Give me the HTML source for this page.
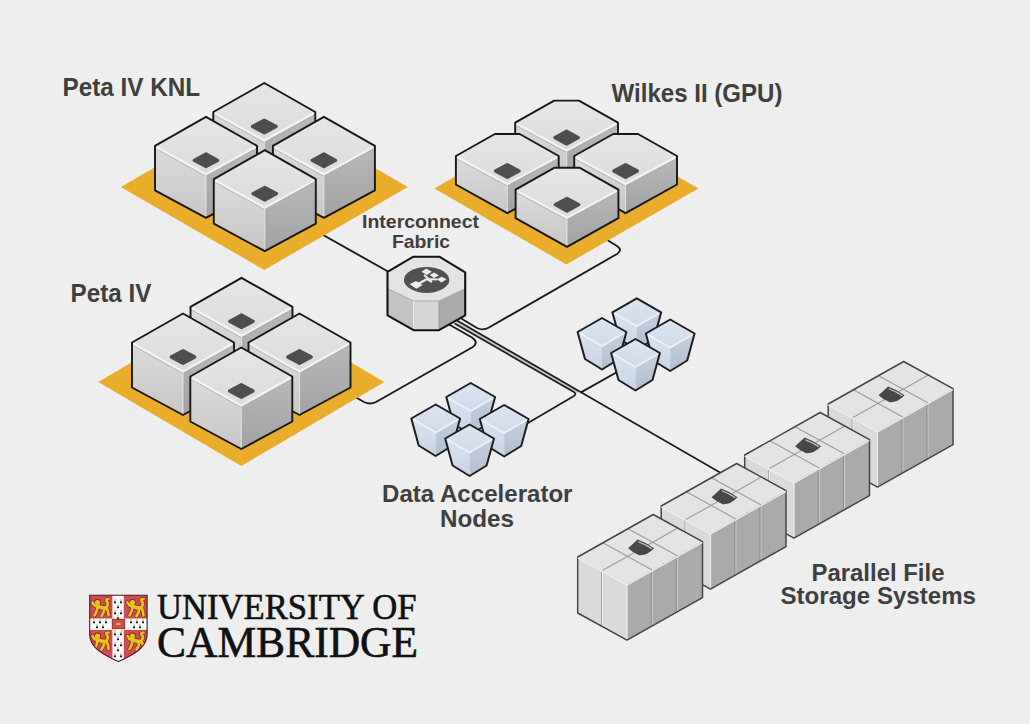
<!DOCTYPE html>
<html><head><meta charset="utf-8"><title>HPC</title>
<style>html,body{margin:0;padding:0;background:#eeeeee;width:1030px;height:724px;overflow:hidden} svg{display:block}</style>
</head><body>
<svg width="1030" height="724" viewBox="0 0 1030 724">
<defs>
 <linearGradient id="gTop" x1="0" y1="0" x2="0" y2="1">
  <stop offset="0" stop-color="#e6e6e6"/><stop offset="1" stop-color="#dcdcdc"/>
 </linearGradient>
 <linearGradient id="gL" x1="0" y1="0" x2="0" y2="1">
  <stop offset="0" stop-color="#dcdcdc"/><stop offset="1" stop-color="#c6c6c6"/>
 </linearGradient>
 <linearGradient id="gR" x1="0" y1="0" x2="0" y2="1">
  <stop offset="0" stop-color="#b9b9b9"/><stop offset="1" stop-color="#a2a2a2"/>
 </linearGradient>
 <linearGradient id="aTop" x1="0" y1="0" x2="0" y2="1">
  <stop offset="0" stop-color="#dce5f1"/><stop offset="1" stop-color="#d0dbea"/>
 </linearGradient>
 <linearGradient id="aL" x1="0" y1="0" x2="0" y2="1">
  <stop offset="0" stop-color="#dbe3ef"/><stop offset="1" stop-color="#c9d4e4"/>
 </linearGradient>
 <linearGradient id="aR" x1="0" y1="0" x2="0" y2="1">
  <stop offset="0" stop-color="#c4cfdf"/><stop offset="1" stop-color="#b3bfd1"/>
 </linearGradient>
</defs>

<rect width="1030" height="724" fill="#eeeeee"/>
<path d="M300,222 L388,271.5" fill="none" stroke="#1c1c1c" stroke-width="1.9" stroke-linejoin="round" stroke-linecap="round"/>
<path d="M604,238 L617,246 Q623,250 617,254 L489,327.5 Q483,331 477,328 L462,319" fill="none" stroke="#1c1c1c" stroke-width="1.9" stroke-linejoin="round" stroke-linecap="round"/>
<path d="M350,394 L364,402 Q370,405 376,402 L472,347.5 Q479.5,342.5 472,337.5 L450,325" fill="none" stroke="#1c1c1c" stroke-width="1.9" stroke-linejoin="round" stroke-linecap="round"/>
<path d="M456,322.1 L578,392.2" fill="none" stroke="#c4c4c4" stroke-width="2.4"/>
<path d="M457,320.5 L581,392.3 L720,472.5" fill="none" stroke="#1c1c1c" stroke-width="1.7" stroke-linejoin="round" stroke-linecap="round"/>
<path d="M455.1,323.8 L573.5,391.8 Q577.3,394 573.5,396.3 L528,423" fill="none" stroke="#1c1c1c" stroke-width="1.7" stroke-linejoin="round" stroke-linecap="round"/>
<path d="M581,392.3 L618,371.5" fill="none" stroke="#1c1c1c" stroke-width="1.9" stroke-linejoin="round" stroke-linecap="round"/>
<polygon points="264.3,104.0 407.8,187.0 264.3,270.0 120.8,187.0" fill="#e9ac2b"/>
<polygon points="213.3,112.0 264.3,139.5 264.3,184.0 213.3,156.5" fill="url(#gL)"/>
<polygon points="264.3,139.5 315.3,112.0 315.3,156.5 264.3,184.0" fill="url(#gR)"/>
<polygon points="264.3,83.0 315.3,112.0 264.3,139.5 213.3,112.0" fill="url(#gTop)"/>
<polyline points="214.8,115.2 264.3,142.5 313.8,115.2" fill="none" stroke="#a9a9a9" stroke-width="0.9" opacity="0.8"/>
<polyline points="214.8,113.2 264.3,140.5 313.8,113.2" fill="none" stroke="#f3f3f3" stroke-width="2.2"/>
<line x1="264.3" y1="141.5" x2="264.3" y2="183.0" stroke="#eeeeee" stroke-width="1" opacity="0.8"/>
<polygon points="264.3,120.1 276.1,126.5 264.3,132.9 252.5,126.5" fill="#4e4e4e" stroke="#4e4e4e" stroke-width="3.2" stroke-linejoin="round"/>
<polygon points="264.3,83.0 315.3,112.0 315.3,156.5 264.3,184.0 213.3,156.5 213.3,112.0" fill="none" stroke="#181818" stroke-width="1.9" stroke-linejoin="round"/>
<polygon points="155.0,145.8 206.0,173.3 206.0,217.8 155.0,190.3" fill="url(#gL)"/>
<polygon points="206.0,173.3 257.0,145.8 257.0,190.3 206.0,217.8" fill="url(#gR)"/>
<polygon points="206.0,116.8 257.0,145.8 206.0,173.3 155.0,145.8" fill="url(#gTop)"/>
<polyline points="156.5,149.0 206.0,176.3 255.5,149.0" fill="none" stroke="#a9a9a9" stroke-width="0.9" opacity="0.8"/>
<polyline points="156.5,147.0 206.0,174.3 255.5,147.0" fill="none" stroke="#f3f3f3" stroke-width="2.2"/>
<line x1="206.0" y1="175.3" x2="206.0" y2="216.8" stroke="#eeeeee" stroke-width="1" opacity="0.8"/>
<polygon points="206.0,153.9 217.8,160.3 206.0,166.7 194.2,160.3" fill="#4e4e4e" stroke="#4e4e4e" stroke-width="3.2" stroke-linejoin="round"/>
<polygon points="206.0,116.8 257.0,145.8 257.0,190.3 206.0,217.8 155.0,190.3 155.0,145.8" fill="none" stroke="#181818" stroke-width="1.9" stroke-linejoin="round"/>
<polygon points="272.9,145.8 323.9,173.3 323.9,217.8 272.9,190.3" fill="url(#gL)"/>
<polygon points="323.9,173.3 374.9,145.8 374.9,190.3 323.9,217.8" fill="url(#gR)"/>
<polygon points="323.9,116.8 374.9,145.8 323.9,173.3 272.9,145.8" fill="url(#gTop)"/>
<polyline points="274.4,149.0 323.9,176.3 373.4,149.0" fill="none" stroke="#a9a9a9" stroke-width="0.9" opacity="0.8"/>
<polyline points="274.4,147.0 323.9,174.3 373.4,147.0" fill="none" stroke="#f3f3f3" stroke-width="2.2"/>
<line x1="323.9" y1="175.3" x2="323.9" y2="216.8" stroke="#eeeeee" stroke-width="1" opacity="0.8"/>
<polygon points="323.9,153.9 335.7,160.3 323.9,166.7 312.1,160.3" fill="#4e4e4e" stroke="#4e4e4e" stroke-width="3.2" stroke-linejoin="round"/>
<polygon points="323.9,116.8 374.9,145.8 374.9,190.3 323.9,217.8 272.9,190.3 272.9,145.8" fill="none" stroke="#181818" stroke-width="1.9" stroke-linejoin="round"/>
<polygon points="213.8,179.2 264.8,206.7 264.8,251.2 213.8,223.7" fill="url(#gL)"/>
<polygon points="264.8,206.7 315.8,179.2 315.8,223.7 264.8,251.2" fill="url(#gR)"/>
<polygon points="264.8,150.2 315.8,179.2 264.8,206.7 213.8,179.2" fill="url(#gTop)"/>
<polyline points="215.3,182.4 264.8,209.7 314.3,182.4" fill="none" stroke="#a9a9a9" stroke-width="0.9" opacity="0.8"/>
<polyline points="215.3,180.4 264.8,207.7 314.3,180.4" fill="none" stroke="#f3f3f3" stroke-width="2.2"/>
<line x1="264.8" y1="208.7" x2="264.8" y2="250.2" stroke="#eeeeee" stroke-width="1" opacity="0.8"/>
<polygon points="264.8,187.3 276.6,193.7 264.8,200.1 253.0,193.7" fill="#4e4e4e" stroke="#4e4e4e" stroke-width="3.2" stroke-linejoin="round"/>
<polygon points="264.8,150.2 315.8,179.2 315.8,223.7 264.8,251.2 213.8,223.7 213.8,179.2" fill="none" stroke="#181818" stroke-width="1.9" stroke-linejoin="round"/>
<polygon points="241.3,298.0 384.3,382.0 241.3,466.0 98.3,382.0" fill="#e9ac2b"/>
<polygon points="190.5,306.8 241.5,334.8 241.5,379.3 190.5,351.8" fill="url(#gL)"/>
<polygon points="241.5,334.8 292.5,306.8 292.5,351.8 241.5,379.3" fill="url(#gR)"/>
<polygon points="241.5,277.8 292.5,306.8 241.5,334.8 190.5,306.8" fill="url(#gTop)"/>
<polyline points="192.0,310.0 241.5,337.8 291.0,310.0" fill="none" stroke="#a9a9a9" stroke-width="0.9" opacity="0.8"/>
<polyline points="192.0,308.0 241.5,335.8 291.0,308.0" fill="none" stroke="#f3f3f3" stroke-width="2.2"/>
<line x1="241.5" y1="336.8" x2="241.5" y2="378.3" stroke="#eeeeee" stroke-width="1" opacity="0.8"/>
<polygon points="241.5,314.9 253.3,321.3 241.5,327.7 229.7,321.3" fill="#4e4e4e" stroke="#4e4e4e" stroke-width="3.2" stroke-linejoin="round"/>
<polygon points="241.5,277.8 292.5,306.8 292.5,351.8 241.5,379.3 190.5,351.8 190.5,306.8" fill="none" stroke="#181818" stroke-width="1.9" stroke-linejoin="round"/>
<polygon points="132.0,342.5 183.0,370.5 183.0,415.0 132.0,387.5" fill="url(#gL)"/>
<polygon points="183.0,370.5 234.0,342.5 234.0,387.5 183.0,415.0" fill="url(#gR)"/>
<polygon points="183.0,313.5 234.0,342.5 183.0,370.5 132.0,342.5" fill="url(#gTop)"/>
<polyline points="133.5,345.7 183.0,373.5 232.5,345.7" fill="none" stroke="#a9a9a9" stroke-width="0.9" opacity="0.8"/>
<polyline points="133.5,343.7 183.0,371.5 232.5,343.7" fill="none" stroke="#f3f3f3" stroke-width="2.2"/>
<line x1="183.0" y1="372.5" x2="183.0" y2="414.0" stroke="#eeeeee" stroke-width="1" opacity="0.8"/>
<polygon points="183.0,350.6 194.8,357.0 183.0,363.4 171.2,357.0" fill="#4e4e4e" stroke="#4e4e4e" stroke-width="3.2" stroke-linejoin="round"/>
<polygon points="183.0,313.5 234.0,342.5 234.0,387.5 183.0,415.0 132.0,387.5 132.0,342.5" fill="none" stroke="#181818" stroke-width="1.9" stroke-linejoin="round"/>
<polygon points="248.5,342.5 299.5,370.5 299.5,415.0 248.5,387.5" fill="url(#gL)"/>
<polygon points="299.5,370.5 350.5,342.5 350.5,387.5 299.5,415.0" fill="url(#gR)"/>
<polygon points="299.5,313.5 350.5,342.5 299.5,370.5 248.5,342.5" fill="url(#gTop)"/>
<polyline points="250.0,345.7 299.5,373.5 349.0,345.7" fill="none" stroke="#a9a9a9" stroke-width="0.9" opacity="0.8"/>
<polyline points="250.0,343.7 299.5,371.5 349.0,343.7" fill="none" stroke="#f3f3f3" stroke-width="2.2"/>
<line x1="299.5" y1="372.5" x2="299.5" y2="414.0" stroke="#eeeeee" stroke-width="1" opacity="0.8"/>
<polygon points="299.5,350.6 311.3,357.0 299.5,363.4 287.7,357.0" fill="#4e4e4e" stroke="#4e4e4e" stroke-width="3.2" stroke-linejoin="round"/>
<polygon points="299.5,313.5 350.5,342.5 350.5,387.5 299.5,415.0 248.5,387.5 248.5,342.5" fill="none" stroke="#181818" stroke-width="1.9" stroke-linejoin="round"/>
<polygon points="190.3,376.5 241.3,404.5 241.3,449.0 190.3,421.5" fill="url(#gL)"/>
<polygon points="241.3,404.5 292.3,376.5 292.3,421.5 241.3,449.0" fill="url(#gR)"/>
<polygon points="241.3,347.5 292.3,376.5 241.3,404.5 190.3,376.5" fill="url(#gTop)"/>
<polyline points="191.8,379.7 241.3,407.5 290.8,379.7" fill="none" stroke="#a9a9a9" stroke-width="0.9" opacity="0.8"/>
<polyline points="191.8,377.7 241.3,405.5 290.8,377.7" fill="none" stroke="#f3f3f3" stroke-width="2.2"/>
<line x1="241.3" y1="406.5" x2="241.3" y2="448.0" stroke="#eeeeee" stroke-width="1" opacity="0.8"/>
<polygon points="241.3,384.6 253.1,391.0 241.3,397.4 229.5,391.0" fill="#4e4e4e" stroke="#4e4e4e" stroke-width="3.2" stroke-linejoin="round"/>
<polygon points="241.3,347.5 292.3,376.5 292.3,421.5 241.3,449.0 190.3,421.5 190.3,376.5" fill="none" stroke="#181818" stroke-width="1.9" stroke-linejoin="round"/>
<polygon points="566.4,112.4 698.4,188.4 566.4,264.4 434.4,188.4" fill="#e9ac2b"/>
<polygon points="515.2,122.6 566.6,149.6 566.6,179.8 515.2,151.1" fill="url(#gL)"/>
<polygon points="566.6,149.6 618.0,122.6 618.0,151.1 566.6,179.8" fill="url(#gR)"/>
<polygon points="554.2,100.6 579.0,100.6 618.0,122.6 566.6,149.6 515.2,122.6" fill="url(#gTop)"/>
<polyline points="516.7,125.8 566.6,152.6 616.5,125.8" fill="none" stroke="#a9a9a9" stroke-width="0.9" opacity="0.8"/>
<polyline points="516.7,123.8 566.6,150.6 616.5,123.8" fill="none" stroke="#f3f3f3" stroke-width="2.2"/>
<line x1="566.6" y1="151.6" x2="566.6" y2="178.8" stroke="#eeeeee" stroke-width="1" opacity="0.8"/>
<polygon points="566.6,131.2 578.4,137.6 566.6,144.0 554.8,137.6" fill="#4e4e4e" stroke="#4e4e4e" stroke-width="3.2" stroke-linejoin="round"/>
<polygon points="554.2,100.6 579.0,100.6 618.0,122.6 618.0,151.1 566.6,179.8 515.2,151.1 515.2,122.6" fill="none" stroke="#181818" stroke-width="1.9" stroke-linejoin="round"/>
<polygon points="455.9,156.0 507.3,183.0 507.3,213.2 455.9,184.5" fill="url(#gL)"/>
<polygon points="507.3,183.0 558.7,156.0 558.7,184.5 507.3,213.2" fill="url(#gR)"/>
<polygon points="494.9,134.0 519.7,134.0 558.7,156.0 507.3,183.0 455.9,156.0" fill="url(#gTop)"/>
<polyline points="457.4,159.2 507.3,186.0 557.2,159.2" fill="none" stroke="#a9a9a9" stroke-width="0.9" opacity="0.8"/>
<polyline points="457.4,157.2 507.3,184.0 557.2,157.2" fill="none" stroke="#f3f3f3" stroke-width="2.2"/>
<line x1="507.3" y1="185.0" x2="507.3" y2="212.2" stroke="#eeeeee" stroke-width="1" opacity="0.8"/>
<polygon points="507.3,164.6 519.1,171.0 507.3,177.4 495.5,171.0" fill="#4e4e4e" stroke="#4e4e4e" stroke-width="3.2" stroke-linejoin="round"/>
<polygon points="494.9,134.0 519.7,134.0 558.7,156.0 558.7,184.5 507.3,213.2 455.9,184.5 455.9,156.0" fill="none" stroke="#181818" stroke-width="1.9" stroke-linejoin="round"/>
<polygon points="574.2,156.0 625.6,183.0 625.6,213.2 574.2,184.5" fill="url(#gL)"/>
<polygon points="625.6,183.0 677.0,156.0 677.0,184.5 625.6,213.2" fill="url(#gR)"/>
<polygon points="613.2,134.0 638.0,134.0 677.0,156.0 625.6,183.0 574.2,156.0" fill="url(#gTop)"/>
<polyline points="575.7,159.2 625.6,186.0 675.5,159.2" fill="none" stroke="#a9a9a9" stroke-width="0.9" opacity="0.8"/>
<polyline points="575.7,157.2 625.6,184.0 675.5,157.2" fill="none" stroke="#f3f3f3" stroke-width="2.2"/>
<line x1="625.6" y1="185.0" x2="625.6" y2="212.2" stroke="#eeeeee" stroke-width="1" opacity="0.8"/>
<polygon points="625.6,164.6 637.4,171.0 625.6,177.4 613.8,171.0" fill="#4e4e4e" stroke="#4e4e4e" stroke-width="3.2" stroke-linejoin="round"/>
<polygon points="613.2,134.0 638.0,134.0 677.0,156.0 677.0,184.5 625.6,213.2 574.2,184.5 574.2,156.0" fill="none" stroke="#181818" stroke-width="1.9" stroke-linejoin="round"/>
<polygon points="515.6,189.7 567.0,216.7 567.0,246.9 515.6,218.2" fill="url(#gL)"/>
<polygon points="567.0,216.7 618.4,189.7 618.4,218.2 567.0,246.9" fill="url(#gR)"/>
<polygon points="554.6,167.7 579.4,167.7 618.4,189.7 567.0,216.7 515.6,189.7" fill="url(#gTop)"/>
<polyline points="517.1,192.9 567.0,219.7 616.9,192.9" fill="none" stroke="#a9a9a9" stroke-width="0.9" opacity="0.8"/>
<polyline points="517.1,190.9 567.0,217.7 616.9,190.9" fill="none" stroke="#f3f3f3" stroke-width="2.2"/>
<line x1="567.0" y1="218.7" x2="567.0" y2="245.9" stroke="#eeeeee" stroke-width="1" opacity="0.8"/>
<polygon points="567.0,198.3 578.8,204.7 567.0,211.1 555.2,204.7" fill="#4e4e4e" stroke="#4e4e4e" stroke-width="3.2" stroke-linejoin="round"/>
<polygon points="554.6,167.7 579.4,167.7 618.4,189.7 618.4,218.2 567.0,246.9 515.6,218.2 515.6,189.7" fill="none" stroke="#181818" stroke-width="1.9" stroke-linejoin="round"/>
<polygon points="387.5,288.6 413.6,301.0 413.6,330.2 387.5,315.3" fill="#c3c3c3"/>
<polygon points="413.6,301.0 439.0,301.0 439.0,330.2 413.6,330.2" fill="#d6d6d6"/>
<polygon points="439.0,301.0 465.2,288.6 465.2,315.3 439.0,330.2" fill="#ababab"/>
<polygon points="413.0,256.8 439.7,256.8 465.2,272.4 465.2,288.6 439.0,301.0 413.6,301.0 387.5,288.6 387.5,271.8" fill="#e3e3e3"/>
<polyline points="387.5,288.6 413.6,301.0 439.0,301.0 465.2,288.6" fill="none" stroke="#a8a8a8" stroke-width="1"/>
<line x1="413.6" y1="301" x2="413.6" y2="330" stroke="#eeeeee" stroke-width="1"/>
<line x1="439" y1="301" x2="439" y2="330" stroke="#a0a0a0" stroke-width="1"/>
<ellipse cx="426.6" cy="279.9" rx="22.7" ry="13" fill="#505050"/>
<polygon points="409.6,284.2 416.0,281.0 422.6,285.0 416.4,288.8" fill="#ececec"/>
<polygon points="421.5,271.8 426.2,268.4 431.8,271.8 426.8,275.0" fill="#ececec"/>
<polygon points="429.6,275.0 434.2,272.6 438.8,275.4 433.8,278.0" fill="#ececec"/>
<polygon points="436.6,279.3 441.6,276.8 446.6,279.3 441.6,282.4" fill="#ececec"/>
<path d="M418,284 L427,279 M424,275 L429,279 L437,279.5 M427,279 L432,282" stroke="#ececec" stroke-width="2.2" fill="none"/>
<polygon points="413.0,256.8 439.7,256.8 465.2,272.4 465.2,315.3 439.0,330.2 413.6,330.2 387.5,315.3 387.5,271.8" fill="none" stroke="#141414" stroke-width="2.1" stroke-linejoin="round"/>
<polygon points="446.3,397.0 470.7,411.0 470.7,434.5 453.7,424.0" fill="url(#aL)"/>
<polygon points="470.7,411.0 495.1,397.0 487.7,424.0 470.7,434.5" fill="url(#aR)"/>
<polygon points="470.7,383.0 495.1,397.0 470.7,411.0 446.3,397.0" fill="url(#aTop)"/>
<polyline points="448.3,398.0 470.7,411.0 493.1,398.0" fill="none" stroke="#eef2f8" stroke-width="1.6"/>
<polygon points="470.7,383.0 495.1,397.0 487.7,424.0 470.7,434.5 453.7,424.0 446.3,397.0" fill="none" stroke="#1e1e22" stroke-width="2.0" stroke-linejoin="round"/>
<polygon points="411.3,418.5 435.7,432.5 435.7,456.0 418.7,445.5" fill="url(#aL)"/>
<polygon points="435.7,432.5 460.1,418.5 452.7,445.5 435.7,456.0" fill="url(#aR)"/>
<polygon points="435.7,404.5 460.1,418.5 435.7,432.5 411.3,418.5" fill="url(#aTop)"/>
<polyline points="413.3,419.5 435.7,432.5 458.1,419.5" fill="none" stroke="#eef2f8" stroke-width="1.6"/>
<polygon points="435.7,404.5 460.1,418.5 452.7,445.5 435.7,456.0 418.7,445.5 411.3,418.5" fill="none" stroke="#1e1e22" stroke-width="2.0" stroke-linejoin="round"/>
<polygon points="479.8,419.0 504.2,433.0 504.2,456.5 487.2,446.0" fill="url(#aL)"/>
<polygon points="504.2,433.0 528.6,419.0 521.2,446.0 504.2,456.5" fill="url(#aR)"/>
<polygon points="504.2,405.0 528.6,419.0 504.2,433.0 479.8,419.0" fill="url(#aTop)"/>
<polyline points="481.8,420.0 504.2,433.0 526.6,420.0" fill="none" stroke="#eef2f8" stroke-width="1.6"/>
<polygon points="504.2,405.0 528.6,419.0 521.2,446.0 504.2,456.5 487.2,446.0 479.8,419.0" fill="none" stroke="#1e1e22" stroke-width="2.0" stroke-linejoin="round"/>
<polygon points="445.2,438.5 469.6,452.5 469.6,476.0 452.6,465.5" fill="url(#aL)"/>
<polygon points="469.6,452.5 494.0,438.5 486.6,465.5 469.6,476.0" fill="url(#aR)"/>
<polygon points="469.6,424.5 494.0,438.5 469.6,452.5 445.2,438.5" fill="url(#aTop)"/>
<polyline points="447.2,439.5 469.6,452.5 492.0,439.5" fill="none" stroke="#eef2f8" stroke-width="1.6"/>
<polygon points="469.6,424.5 494.0,438.5 486.6,465.5 469.6,476.0 452.6,465.5 445.2,438.5" fill="none" stroke="#1e1e22" stroke-width="2.0" stroke-linejoin="round"/>
<polygon points="612.4,312.3 636.8,326.3 636.8,349.8 619.8,339.3" fill="url(#aL)"/>
<polygon points="636.8,326.3 661.2,312.3 653.8,339.3 636.8,349.8" fill="url(#aR)"/>
<polygon points="636.8,298.3 661.2,312.3 636.8,326.3 612.4,312.3" fill="url(#aTop)"/>
<polyline points="614.4,313.3 636.8,326.3 659.2,313.3" fill="none" stroke="#eef2f8" stroke-width="1.6"/>
<polygon points="636.8,298.3 661.2,312.3 653.8,339.3 636.8,349.8 619.8,339.3 612.4,312.3" fill="none" stroke="#1e1e22" stroke-width="2.0" stroke-linejoin="round"/>
<polygon points="577.6,332.0 602.0,346.0 602.0,369.5 585.0,359.0" fill="url(#aL)"/>
<polygon points="602.0,346.0 626.4,332.0 619.0,359.0 602.0,369.5" fill="url(#aR)"/>
<polygon points="602.0,318.0 626.4,332.0 602.0,346.0 577.6,332.0" fill="url(#aTop)"/>
<polyline points="579.6,333.0 602.0,346.0 624.4,333.0" fill="none" stroke="#eef2f8" stroke-width="1.6"/>
<polygon points="602.0,318.0 626.4,332.0 619.0,359.0 602.0,369.5 585.0,359.0 577.6,332.0" fill="none" stroke="#1e1e22" stroke-width="2.0" stroke-linejoin="round"/>
<polygon points="645.8,333.5 670.2,347.5 670.2,371.0 653.2,360.5" fill="url(#aL)"/>
<polygon points="670.2,347.5 694.6,333.5 687.2,360.5 670.2,371.0" fill="url(#aR)"/>
<polygon points="670.2,319.5 694.6,333.5 670.2,347.5 645.8,333.5" fill="url(#aTop)"/>
<polyline points="647.8,334.5 670.2,347.5 692.6,334.5" fill="none" stroke="#eef2f8" stroke-width="1.6"/>
<polygon points="670.2,319.5 694.6,333.5 687.2,360.5 670.2,371.0 653.2,360.5 645.8,333.5" fill="none" stroke="#1e1e22" stroke-width="2.0" stroke-linejoin="round"/>
<polygon points="611.1,353.0 635.5,367.0 635.5,390.5 618.5,380.0" fill="url(#aL)"/>
<polygon points="635.5,367.0 659.9,353.0 652.5,380.0 635.5,390.5" fill="url(#aR)"/>
<polygon points="635.5,339.0 659.9,353.0 635.5,367.0 611.1,353.0" fill="url(#aTop)"/>
<polyline points="613.1,354.0 635.5,367.0 657.9,354.0" fill="none" stroke="#eef2f8" stroke-width="1.6"/>
<polygon points="635.5,339.0 659.9,353.0 652.5,380.0 635.5,390.5 618.5,380.0 611.1,353.0" fill="none" stroke="#1e1e22" stroke-width="2.0" stroke-linejoin="round"/>
<polygon points="828.2,404.0 877.5,431.1 877.5,487.1 828.2,460.0" fill="#dadada"/>
<polygon points="877.5,431.1 953.0,388.6 953.0,444.6 877.5,487.1" fill="#aaaaaa"/>
<polygon points="877.5,431.1 828.2,404.0 903.7,361.5 953.0,388.6" fill="#e4e4e4"/>
<line x1="852.9" y1="418.6" x2="852.9" y2="473.6" stroke="#f0f0f0" stroke-width="1.0"/>
<line x1="852.0" y1="418.6" x2="852.0" y2="473.6" stroke="#a0a0a0" stroke-width="0.9"/>
<line x1="877.5" y1="432.1" x2="877.5" y2="487.1" stroke="#ececec" stroke-width="1.2"/>
<line x1="902.9" y1="417.9" x2="902.9" y2="472.9" stroke="#c9c9c9" stroke-width="1.1"/>
<line x1="901.8" y1="417.9" x2="901.8" y2="472.9" stroke="#8c8c8c" stroke-width="0.9"/>
<line x1="928.0" y1="403.8" x2="928.0" y2="458.8" stroke="#c9c9c9" stroke-width="1.1"/>
<line x1="926.9" y1="403.8" x2="926.9" y2="458.8" stroke="#8c8c8c" stroke-width="0.9"/>
<line x1="852.9" y1="417.6" x2="928.4" y2="375.1" stroke="#9d9d9d" stroke-width="1.1"/>
<line x1="902.7" y1="416.9" x2="853.4" y2="389.8" stroke="#9d9d9d" stroke-width="1.1"/>
<line x1="927.8" y1="402.8" x2="878.5" y2="375.7" stroke="#9d9d9d" stroke-width="1.1"/>
<path d="M878.6,395.3 L888.1,386.5 Q897.6,389.8 904.6,395.3 Q897.6,402.8 889.6,402.3 Q883.6,399.8 878.6,395.3 Z" fill="#474747"/>
<path d="M888.8,388.7 Q896.6,391.7 902.4,395.7" fill="none" stroke="#c6c6c6" stroke-width="1.2"/>
<polygon points="828.2,404.0 903.7,361.5 953.0,388.6 953.0,444.6 877.5,487.1 828.2,460.0" fill="none" stroke="#454545" stroke-width="1.5" stroke-linejoin="round"/>
<polyline points="828.2,405.0 877.5,432.1 953.0,389.6" fill="none" stroke="#f0f0f0" stroke-width="1.1"/>
<polygon points="744.7,455.0 794.0,482.1 794.0,538.1 744.7,511.0" fill="#dadada"/>
<polygon points="794.0,482.1 869.5,439.6 869.5,495.6 794.0,538.1" fill="#aaaaaa"/>
<polygon points="794.0,482.1 744.7,455.0 820.2,412.5 869.5,439.6" fill="#e4e4e4"/>
<line x1="769.4" y1="469.6" x2="769.4" y2="524.5" stroke="#f0f0f0" stroke-width="1.0"/>
<line x1="768.5" y1="469.6" x2="768.5" y2="524.5" stroke="#a0a0a0" stroke-width="0.9"/>
<line x1="794.0" y1="483.1" x2="794.0" y2="538.1" stroke="#ececec" stroke-width="1.2"/>
<line x1="819.4" y1="468.9" x2="819.4" y2="523.9" stroke="#c9c9c9" stroke-width="1.1"/>
<line x1="818.3" y1="468.9" x2="818.3" y2="523.9" stroke="#8c8c8c" stroke-width="0.9"/>
<line x1="844.5" y1="454.8" x2="844.5" y2="509.8" stroke="#c9c9c9" stroke-width="1.1"/>
<line x1="843.4" y1="454.8" x2="843.4" y2="509.8" stroke="#8c8c8c" stroke-width="0.9"/>
<line x1="769.4" y1="468.6" x2="844.9" y2="426.1" stroke="#9d9d9d" stroke-width="1.1"/>
<line x1="819.2" y1="467.9" x2="769.9" y2="440.8" stroke="#9d9d9d" stroke-width="1.1"/>
<line x1="844.3" y1="453.8" x2="795.0" y2="426.7" stroke="#9d9d9d" stroke-width="1.1"/>
<path d="M795.1,446.3 L804.6,437.5 Q814.1,440.8 821.1,446.3 Q814.1,453.8 806.1,453.3 Q800.1,450.8 795.1,446.3 Z" fill="#474747"/>
<path d="M805.3,439.7 Q813.1,442.7 818.9,446.7" fill="none" stroke="#c6c6c6" stroke-width="1.2"/>
<polygon points="744.7,455.0 820.2,412.5 869.5,439.6 869.5,495.6 794.0,538.1 744.7,511.0" fill="none" stroke="#454545" stroke-width="1.5" stroke-linejoin="round"/>
<polyline points="744.7,456.0 794.0,483.1 869.5,440.6" fill="none" stroke="#f0f0f0" stroke-width="1.1"/>
<polygon points="661.2,506.0 710.5,533.1 710.5,589.1 661.2,562.0" fill="#dadada"/>
<polygon points="710.5,533.1 786.0,490.6 786.0,546.6 710.5,589.1" fill="#aaaaaa"/>
<polygon points="710.5,533.1 661.2,506.0 736.7,463.5 786.0,490.6" fill="#e4e4e4"/>
<line x1="685.9" y1="520.6" x2="685.9" y2="575.6" stroke="#f0f0f0" stroke-width="1.0"/>
<line x1="685.0" y1="520.6" x2="685.0" y2="575.6" stroke="#a0a0a0" stroke-width="0.9"/>
<line x1="710.5" y1="534.1" x2="710.5" y2="589.1" stroke="#ececec" stroke-width="1.2"/>
<line x1="735.9" y1="519.9" x2="735.9" y2="574.9" stroke="#c9c9c9" stroke-width="1.1"/>
<line x1="734.8" y1="519.9" x2="734.8" y2="574.9" stroke="#8c8c8c" stroke-width="0.9"/>
<line x1="761.0" y1="505.8" x2="761.0" y2="560.8" stroke="#c9c9c9" stroke-width="1.1"/>
<line x1="759.9" y1="505.8" x2="759.9" y2="560.8" stroke="#8c8c8c" stroke-width="0.9"/>
<line x1="685.9" y1="519.6" x2="761.4" y2="477.1" stroke="#9d9d9d" stroke-width="1.1"/>
<line x1="735.7" y1="518.9" x2="686.4" y2="491.8" stroke="#9d9d9d" stroke-width="1.1"/>
<line x1="760.8" y1="504.8" x2="711.5" y2="477.7" stroke="#9d9d9d" stroke-width="1.1"/>
<path d="M711.6,497.3 L721.1,488.5 Q730.6,491.8 737.6,497.3 Q730.6,504.8 722.6,504.3 Q716.6,501.8 711.6,497.3 Z" fill="#474747"/>
<path d="M721.8,490.7 Q729.6,493.7 735.4,497.7" fill="none" stroke="#c6c6c6" stroke-width="1.2"/>
<polygon points="661.2,506.0 736.7,463.5 786.0,490.6 786.0,546.6 710.5,589.1 661.2,562.0" fill="none" stroke="#454545" stroke-width="1.5" stroke-linejoin="round"/>
<polyline points="661.2,507.0 710.5,534.1 786.0,491.6" fill="none" stroke="#f0f0f0" stroke-width="1.1"/>
<polygon points="577.7,557.0 627.0,584.1 627.0,640.1 577.7,613.0" fill="#dadada"/>
<polygon points="627.0,584.1 702.5,541.6 702.5,597.6 627.0,640.1" fill="#aaaaaa"/>
<polygon points="627.0,584.1 577.7,557.0 653.2,514.5 702.5,541.6" fill="#e4e4e4"/>
<line x1="602.4" y1="571.6" x2="602.4" y2="626.6" stroke="#f0f0f0" stroke-width="1.0"/>
<line x1="601.5" y1="571.6" x2="601.5" y2="626.6" stroke="#a0a0a0" stroke-width="0.9"/>
<line x1="627.0" y1="585.1" x2="627.0" y2="640.1" stroke="#ececec" stroke-width="1.2"/>
<line x1="652.4" y1="570.9" x2="652.4" y2="625.9" stroke="#c9c9c9" stroke-width="1.1"/>
<line x1="651.3" y1="570.9" x2="651.3" y2="625.9" stroke="#8c8c8c" stroke-width="0.9"/>
<line x1="677.5" y1="556.8" x2="677.5" y2="611.8" stroke="#c9c9c9" stroke-width="1.1"/>
<line x1="676.4" y1="556.8" x2="676.4" y2="611.8" stroke="#8c8c8c" stroke-width="0.9"/>
<line x1="602.4" y1="570.6" x2="677.9" y2="528.1" stroke="#9d9d9d" stroke-width="1.1"/>
<line x1="652.2" y1="569.9" x2="602.9" y2="542.8" stroke="#9d9d9d" stroke-width="1.1"/>
<line x1="677.3" y1="555.8" x2="628.0" y2="528.7" stroke="#9d9d9d" stroke-width="1.1"/>
<path d="M628.1,548.3 L637.6,539.5 Q647.1,542.8 654.1,548.3 Q647.1,555.8 639.1,555.3 Q633.1,552.8 628.1,548.3 Z" fill="#474747"/>
<path d="M638.3,541.7 Q646.1,544.7 651.9,548.7" fill="none" stroke="#c6c6c6" stroke-width="1.2"/>
<polygon points="577.7,557.0 653.2,514.5 702.5,541.6 702.5,597.6 627.0,640.1 577.7,613.0" fill="none" stroke="#454545" stroke-width="1.5" stroke-linejoin="round"/>
<polyline points="577.7,558.0 627.0,585.1 702.5,542.6" fill="none" stroke="#f0f0f0" stroke-width="1.1"/>
<clipPath id="shc"><path d="M89.7,595.2 H147.1 V634 C147,645 140,652 118.4,661.6 C97,652 89.8,645 89.7,634 Z"/></clipPath>
<path d="M89.7,595.2 H147.1 V634 C147,645 140,652 118.4,661.6 C97,652 89.8,645 89.7,634 Z" fill="#d24a55"/>
<g clip-path="url(#shc)">
<rect x="112.4" y="590" width="11.4" height="80" fill="#fbfbfb"/>
<rect x="85" y="618.5" width="70" height="11.4" fill="#fbfbfb"/>
<circle cx="115" cy="602.3" r="1.15" fill="#1a1a1a"/><path d="M115,599.1 v2.4" stroke="#666" stroke-width="0.6"/>
<circle cx="121" cy="602.3" r="1.15" fill="#1a1a1a"/><path d="M121,599.1 v2.4" stroke="#666" stroke-width="0.6"/>
<circle cx="118" cy="607.3" r="1.15" fill="#1a1a1a"/><path d="M118,604.1 v2.4" stroke="#666" stroke-width="0.6"/>
<circle cx="115" cy="613.3" r="1.15" fill="#1a1a1a"/><path d="M115,610.1 v2.4" stroke="#666" stroke-width="0.6"/>
<circle cx="121" cy="613.3" r="1.15" fill="#1a1a1a"/><path d="M121,610.1 v2.4" stroke="#666" stroke-width="0.6"/>
<circle cx="118" cy="618.3" r="1.15" fill="#1a1a1a"/><path d="M118,615.1 v2.4" stroke="#666" stroke-width="0.6"/>
<circle cx="115" cy="634.3" r="1.15" fill="#1a1a1a"/><path d="M115,631.1 v2.4" stroke="#666" stroke-width="0.6"/>
<circle cx="121" cy="634.3" r="1.15" fill="#1a1a1a"/><path d="M121,631.1 v2.4" stroke="#666" stroke-width="0.6"/>
<circle cx="118" cy="639.3" r="1.15" fill="#1a1a1a"/><path d="M118,636.1 v2.4" stroke="#666" stroke-width="0.6"/>
<circle cx="115" cy="645.3" r="1.15" fill="#1a1a1a"/><path d="M115,642.1 v2.4" stroke="#666" stroke-width="0.6"/>
<circle cx="121" cy="645.3" r="1.15" fill="#1a1a1a"/><path d="M121,642.1 v2.4" stroke="#666" stroke-width="0.6"/>
<circle cx="118" cy="650.3" r="1.15" fill="#1a1a1a"/><path d="M118,647.1 v2.4" stroke="#666" stroke-width="0.6"/>
<circle cx="115" cy="656.3" r="1.15" fill="#1a1a1a"/><path d="M115,653.1 v2.4" stroke="#666" stroke-width="0.6"/>
<circle cx="121" cy="656.3" r="1.15" fill="#1a1a1a"/><path d="M121,653.1 v2.4" stroke="#666" stroke-width="0.6"/>
<circle cx="94" cy="622.3" r="1.15" fill="#1a1a1a"/><path d="M94,619.1 v2.4" stroke="#666" stroke-width="0.6"/>
<circle cx="100" cy="622.3" r="1.15" fill="#1a1a1a"/><path d="M100,619.1 v2.4" stroke="#666" stroke-width="0.6"/>
<circle cx="106" cy="622.3" r="1.15" fill="#1a1a1a"/><path d="M106,619.1 v2.4" stroke="#666" stroke-width="0.6"/>
<circle cx="97" cy="627.3" r="1.15" fill="#1a1a1a"/><path d="M97,624.1 v2.4" stroke="#666" stroke-width="0.6"/>
<circle cx="103" cy="627.3" r="1.15" fill="#1a1a1a"/><path d="M103,624.1 v2.4" stroke="#666" stroke-width="0.6"/>
<circle cx="131" cy="622.3" r="1.15" fill="#1a1a1a"/><path d="M131,619.1 v2.4" stroke="#666" stroke-width="0.6"/>
<circle cx="137" cy="622.3" r="1.15" fill="#1a1a1a"/><path d="M137,619.1 v2.4" stroke="#666" stroke-width="0.6"/>
<circle cx="143" cy="622.3" r="1.15" fill="#1a1a1a"/><path d="M143,619.1 v2.4" stroke="#666" stroke-width="0.6"/>
<circle cx="134" cy="627.3" r="1.15" fill="#1a1a1a"/><path d="M134,624.1 v2.4" stroke="#666" stroke-width="0.6"/>
<circle cx="140" cy="627.3" r="1.15" fill="#1a1a1a"/><path d="M140,624.1 v2.4" stroke="#666" stroke-width="0.6"/>
<g transform="translate(100.5,607.5)"><path d="M-3,-2 Q1,0.5 6,-0.5 M-2,-0.5 Q2,1.5 5.5,1 M-4,-1 Q-7,-2 -8,-5 M-3,0 L-4,4 L-6,8 M4,0.5 L3,5 L1,8.5 M6,0 L7.5,4 L8,8 M6.5,-1 Q8.5,-4 6,-6.5 Q5,-8.5 8,-8.5" fill="none" stroke="#7a2e1e" stroke-width="4.0" stroke-linecap="round" stroke-linejoin="round"/><circle cx="-3" cy="-5" r="3.4" fill="#7a2e1e"/><path d="M-3,-2 Q1,0.5 6,-0.5 M-2,-0.5 Q2,1.5 5.5,1 M-4,-1 Q-7,-2 -8,-5 M-3,0 L-4,4 L-6,8 M4,0.5 L3,5 L1,8.5 M6,0 L7.5,4 L8,8 M6.5,-1 Q8.5,-4 6,-6.5 Q5,-8.5 8,-8.5" fill="none" stroke="#e6c21c" stroke-width="2.7" stroke-linecap="round" stroke-linejoin="round"/><circle cx="-3" cy="-5" r="2.6" fill="#e6c21c"/></g>
<g transform="translate(135.5,607.5)"><path d="M-3,-2 Q1,0.5 6,-0.5 M-2,-0.5 Q2,1.5 5.5,1 M-4,-1 Q-7,-2 -8,-5 M-3,0 L-4,4 L-6,8 M4,0.5 L3,5 L1,8.5 M6,0 L7.5,4 L8,8 M6.5,-1 Q8.5,-4 6,-6.5 Q5,-8.5 8,-8.5" fill="none" stroke="#7a2e1e" stroke-width="4.0" stroke-linecap="round" stroke-linejoin="round"/><circle cx="-3" cy="-5" r="3.4" fill="#7a2e1e"/><path d="M-3,-2 Q1,0.5 6,-0.5 M-2,-0.5 Q2,1.5 5.5,1 M-4,-1 Q-7,-2 -8,-5 M-3,0 L-4,4 L-6,8 M4,0.5 L3,5 L1,8.5 M6,0 L7.5,4 L8,8 M6.5,-1 Q8.5,-4 6,-6.5 Q5,-8.5 8,-8.5" fill="none" stroke="#e6c21c" stroke-width="2.7" stroke-linecap="round" stroke-linejoin="round"/><circle cx="-3" cy="-5" r="2.6" fill="#e6c21c"/></g>
<g transform="translate(100.5,641)"><path d="M-3,-2 Q1,0.5 6,-0.5 M-2,-0.5 Q2,1.5 5.5,1 M-4,-1 Q-7,-2 -8,-5 M-3,0 L-4,4 L-6,8 M4,0.5 L3,5 L1,8.5 M6,0 L7.5,4 L8,8 M6.5,-1 Q8.5,-4 6,-6.5 Q5,-8.5 8,-8.5" fill="none" stroke="#7a2e1e" stroke-width="4.0" stroke-linecap="round" stroke-linejoin="round"/><circle cx="-3" cy="-5" r="3.4" fill="#7a2e1e"/><path d="M-3,-2 Q1,0.5 6,-0.5 M-2,-0.5 Q2,1.5 5.5,1 M-4,-1 Q-7,-2 -8,-5 M-3,0 L-4,4 L-6,8 M4,0.5 L3,5 L1,8.5 M6,0 L7.5,4 L8,8 M6.5,-1 Q8.5,-4 6,-6.5 Q5,-8.5 8,-8.5" fill="none" stroke="#e6c21c" stroke-width="2.7" stroke-linecap="round" stroke-linejoin="round"/><circle cx="-3" cy="-5" r="2.6" fill="#e6c21c"/></g>
<g transform="translate(135.5,641)"><path d="M-3,-2 Q1,0.5 6,-0.5 M-2,-0.5 Q2,1.5 5.5,1 M-4,-1 Q-7,-2 -8,-5 M-3,0 L-4,4 L-6,8 M4,0.5 L3,5 L1,8.5 M6,0 L7.5,4 L8,8 M6.5,-1 Q8.5,-4 6,-6.5 Q5,-8.5 8,-8.5" fill="none" stroke="#7a2e1e" stroke-width="4.0" stroke-linecap="round" stroke-linejoin="round"/><circle cx="-3" cy="-5" r="3.4" fill="#7a2e1e"/><path d="M-3,-2 Q1,0.5 6,-0.5 M-2,-0.5 Q2,1.5 5.5,1 M-4,-1 Q-7,-2 -8,-5 M-3,0 L-4,4 L-6,8 M4,0.5 L3,5 L1,8.5 M6,0 L7.5,4 L8,8 M6.5,-1 Q8.5,-4 6,-6.5 Q5,-8.5 8,-8.5" fill="none" stroke="#e6c21c" stroke-width="2.7" stroke-linecap="round" stroke-linejoin="round"/><circle cx="-3" cy="-5" r="2.6" fill="#e6c21c"/></g>
</g>
<path d="M89.7,595.2 H147.1 V634 C147,645 140,652 118.4,661.6 C97,652 89.8,645 89.7,634 Z" fill="none" stroke="#4a1c22" stroke-width="1.1"/>
<rect x="112.2" y="619.3" width="12.6" height="9.4" fill="#d24a55" stroke="#6a1e26" stroke-width="0.7"/>
<path d="M113.5,619 v-1.5 M116.5,619 v-1.5 M120,619 v-1.5 M123.5,619 v-1.5" stroke="#e6c21c" stroke-width="1.2"/>
<rect x="116.3" y="622.8" width="4.2" height="2.2" fill="#e6c21c"/>
<path d="M114.5,628.8 v2.2 M122,628.8 v2.2" stroke="#e6c21c" stroke-width="1.4"/>
<text x="62.50" y="96.00" font-family="Liberation Sans, sans-serif" font-weight="bold" font-size="25.00" fill="#3f3f3f" textLength="137.51" lengthAdjust="spacingAndGlyphs">Peta IV KNL</text>
<text x="611.50" y="101.80" font-family="Liberation Sans, sans-serif" font-weight="bold" font-size="25.00" fill="#3f3f3f" textLength="170.99" lengthAdjust="spacingAndGlyphs">Wilkes II (GPU)</text>
<text x="70.50" y="302.00" font-family="Liberation Sans, sans-serif" font-weight="bold" font-size="25.00" fill="#3f3f3f" textLength="80.97" lengthAdjust="spacingAndGlyphs">Peta IV</text>
<text x="362.00" y="227.50" font-family="Liberation Sans, sans-serif" font-weight="bold" font-size="19.00" fill="#3f3f3f" textLength="117.00" lengthAdjust="spacingAndGlyphs">Interconnect</text>
<text x="392.00" y="247.60" font-family="Liberation Sans, sans-serif" font-weight="bold" font-size="19.00" fill="#3f3f3f" textLength="58.01" lengthAdjust="spacingAndGlyphs">Fabric</text>
<text x="382.00" y="501.70" font-family="Liberation Sans, sans-serif" font-weight="bold" font-size="24.50" fill="#3f3f3f" textLength="190.49" lengthAdjust="spacingAndGlyphs">Data Accelerator</text>
<text x="440.00" y="526.90" font-family="Liberation Sans, sans-serif" font-weight="bold" font-size="24.50" fill="#3f3f3f" textLength="74.01" lengthAdjust="spacingAndGlyphs">Nodes</text>
<text x="811.50" y="580.60" font-family="Liberation Sans, sans-serif" font-weight="bold" font-size="24.50" fill="#3f3f3f" textLength="132.97" lengthAdjust="spacingAndGlyphs">Parallel File</text>
<text x="780.50" y="603.70" font-family="Liberation Sans, sans-serif" font-weight="bold" font-size="24.50" fill="#3f3f3f" textLength="195.49" lengthAdjust="spacingAndGlyphs">Storage Systems</text>
<text x="157.00" y="619.00" font-family="Liberation Serif, serif" font-weight="normal" font-size="36.50" fill="#111111" textLength="259.51" lengthAdjust="spacingAndGlyphs" stroke="#111" stroke-width="0.6">UNIVERSITY OF</text>
<text x="157.00" y="657.00" font-family="Liberation Serif, serif" font-weight="normal" font-size="43.50" fill="#111111" textLength="261.04" lengthAdjust="spacingAndGlyphs" stroke="#111" stroke-width="0.6">CAMBRIDGE</text></svg>
</body></html>
